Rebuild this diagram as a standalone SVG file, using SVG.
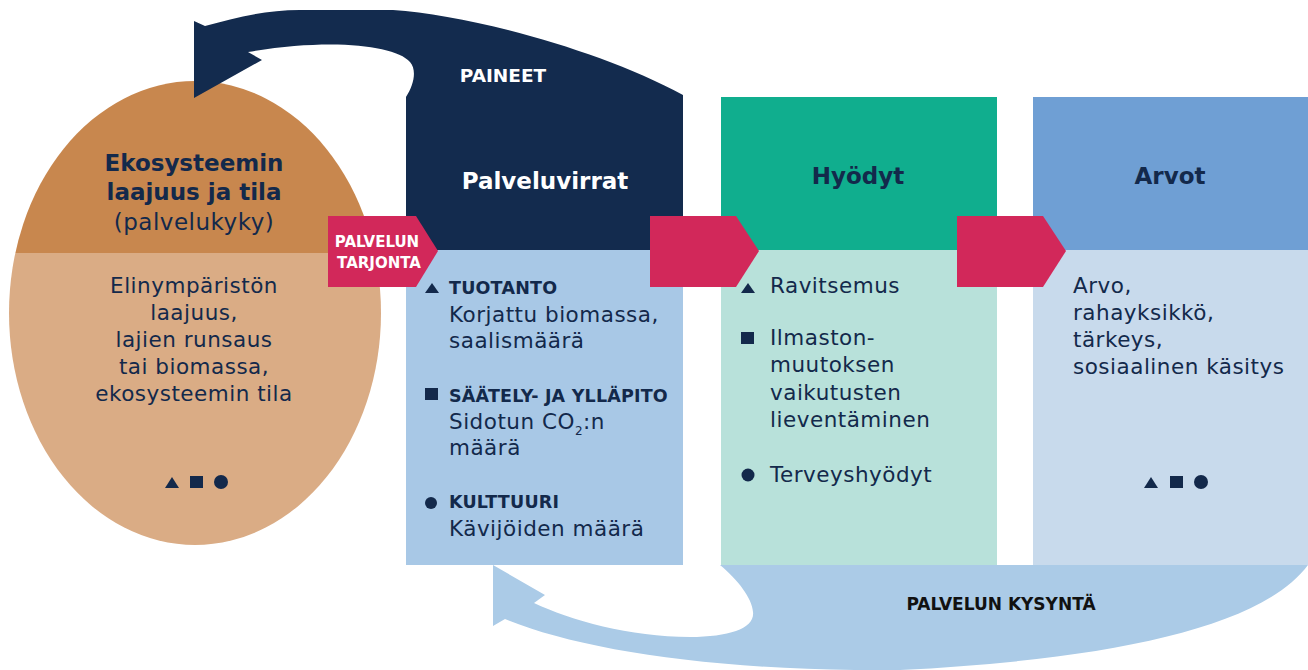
<svg xmlns="http://www.w3.org/2000/svg" width="1308" height="670" viewBox="0 0 1308 670">
<style>
.navy{fill:#132B4E}
.body{font-family:"DejaVu Sans","Noto Sans",sans-serif;font-size:21.5px;letter-spacing:0.5px;fill:#13294B}
.bodyc{font-family:"DejaVu Sans","Noto Sans",sans-serif;font-size:21.5px;letter-spacing:0.5px;fill:#13294B;text-anchor:middle}
.cap{font-family:"DejaVu Sans","Noto Sans",sans-serif;font-size:17.5px;letter-spacing:0.2px;font-weight:bold;fill:#13294B}
.head{font-family:"DejaVu Sans","Noto Sans",sans-serif;font-size:23px;font-weight:bold;text-anchor:middle}
.pink{fill:#D2285A}
.sym{fill:#13294B}
</style>
<defs>
<clipPath id="eggclip"><ellipse cx="195" cy="313" rx="186" ry="232"/></clipPath>
</defs>

<g id="connectors-back">
<path id="demand-arrow" fill="#ABCBE7" d="M 720,565 L 1308,565 C 1260,630 1100,660 900,670 C 720,672 580,650 505,619 L 493,626 L 493,565 L 545,595 L 534,603 C 570,620 630,637 690,637 C 730,637 755,628 753,612 C 752,598 738,580 720,565 Z"/>
</g>

<g id="node-ecosystem">
<g clip-path="url(#eggclip)">
<rect x="0" y="60" width="400" height="193" fill="#C8874E"/>
<rect x="0" y="253" width="400" height="300" fill="#DAAC85"/>
</g>
<text class="head" x="194" y="171" fill="#13294B">Ekosysteemin</text>
<text class="head" x="194" y="200" fill="#13294B">laajuus ja tila</text>
<text class="bodyc" x="194" y="230" style="font-size:23px">(palvelukyky)</text>
<text class="bodyc" x="194" y="293">Elinympäristön</text>
<text class="bodyc" x="194" y="320">laajuus,</text>
<text class="bodyc" x="194" y="347">lajien runsaus</text>
<text class="bodyc" x="194" y="374">tai biomassa,</text>
<text class="bodyc" x="194" y="401">ekosysteemin tila</text>
<polygon class="sym" points="165,488 172,477 179,488"/>
<rect class="sym" x="190" y="476" width="13" height="12"/>
<circle class="sym" cx="221" cy="482" r="7"/>
</g>

<g id="node-palveluvirrat">
<rect class="navy" x="406" y="97" width="277" height="154"/>
<rect x="406" y="250" width="277" height="315" fill="#A8C8E6"/>
<text class="head" x="545" y="189" fill="#FFFFFF">Palveluvirrat</text>
<polygon class="sym" points="425,293 432,283 439,293"/>
<text class="cap" x="449" y="294">TUOTANTO</text>
<text class="body" x="449" y="322">Korjattu biomassa,</text>
<text class="body" x="449" y="348">saalismäärä</text>
<rect class="sym" x="425" y="388" width="13" height="12"/>
<text class="cap" x="449" y="402">SÄÄTELY- JA YLLÄPITO</text>
<text class="body" x="449" y="429">Sidotun CO<tspan dy="6" style="font-size:12px">2</tspan><tspan dy="-6">:n</tspan></text>
<text class="body" x="449" y="455">määrä</text>
<circle class="sym" cx="431" cy="503" r="6"/>
<text class="cap" x="449" y="508">KULTTUURI</text>
<text class="body" x="449" y="536">Kävijöiden määrä</text>
</g>

<g id="node-hyodyt">
<rect x="721" y="97" width="276" height="154" fill="#10AE8E"/>
<rect x="721" y="250" width="276" height="315" fill="#B8E1DA"/>
<text class="head" x="858" y="184" fill="#13294B">Hyödyt</text>
<polygon class="sym" points="741,293 748,283 755,293"/>
<text class="body" x="770" y="293">Ravitsemus</text>
<rect class="sym" x="741" y="332" width="13" height="12"/>
<text class="body" x="770" y="345">Ilmaston-</text>
<text class="body" x="770" y="372">muutoksen</text>
<text class="body" x="770" y="400">vaikutusten</text>
<text class="body" x="770" y="427">lieventäminen</text>
<circle class="sym" cx="748" cy="475" r="6.5"/>
<text class="body" x="770" y="482">Terveyshyödyt</text>
</g>

<g id="node-arvot">
<rect x="1033" y="97" width="275" height="154" fill="#6F9FD4"/>
<rect x="1033" y="250" width="275" height="315" fill="#C8DAEC"/>
<text class="head" x="1170" y="184" fill="#13294B">Arvot</text>
<text class="body" x="1073" y="293">Arvo,</text>
<text class="body" x="1073" y="320">rahayksikkö,</text>
<text class="body" x="1073" y="347">tärkeys,</text>
<text class="body" x="1073" y="374">sosiaalinen käsitys</text>
<polygon class="sym" points="1144,488 1151,477 1158,488"/>
<rect class="sym" x="1170" y="476" width="13" height="12"/>
<circle class="sym" cx="1201" cy="482" r="7"/>
</g>

<g id="connectors">
<path id="pressure-arrow" class="navy" d="M 194,21 L 205,26 C 235,18 265,10 300,10 L 393,10 C 470,15 600,50 683,95 L 683,100 L 406,100 L 406,97 C 414,85 417,70 410,62 C 395,45 330,38 248,52 L 262,60 L 194,98 Z"/>
<text x="503" y="82" text-anchor="middle" style="font-family:'DejaVu Sans','Noto Sans',sans-serif;font-size:18.5px;font-weight:bold;fill:#FFFFFF">PAINEET</text>
<polygon class="pink" points="328,216 416,216 438,251 416,287 328,287"/>
<text x="377" y="247" text-anchor="middle" style="font-family:'DejaVu Sans','Noto Sans',sans-serif;font-size:15px;font-weight:bold;fill:#FFFFFF">PALVELUN</text>
<text x="379" y="268" text-anchor="middle" style="font-family:'DejaVu Sans','Noto Sans',sans-serif;font-size:15px;font-weight:bold;fill:#FFFFFF">TARJONTA</text>
<polygon class="pink" points="650,216 736,216 759,251 736,287 650,287"/>
<polygon class="pink" points="957,216 1043,216 1066,251 1043,287 957,287"/>
<text x="1001" y="610" text-anchor="middle" style="font-family:'DejaVu Sans','Noto Sans',sans-serif;font-size:17px;font-weight:bold;fill:#111111">PALVELUN KYSYNTÄ</text>
</g>
</svg>
